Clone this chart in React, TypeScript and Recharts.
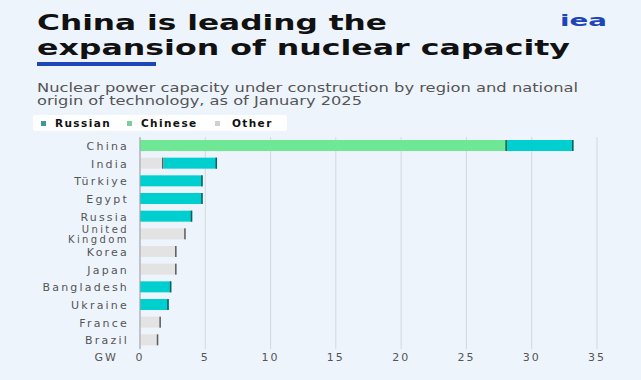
import React from 'react';
import { BarChart, Bar, XAxis, YAxis, CartesianGrid } from 'recharts';

const countries = [
  'China',
  'India',
  'Türkiye',
  'Egypt',
  'Russia',
  'United Kingdom',
  'Korea',
  'Japan',
  'Bangladesh',
  'Ukraine',
  'France',
  'Brazil',
];
const other = [0, 1.8, 0, 0, 0, 3.5, 2.8, 2.8, 0, 0, 1.6, 1.4];
const chinese = [28.1, 0, 0, 0, 0, 0, 0, 0, 0, 0, 0, 0];
const russian = [5.1, 4.1, 4.8, 4.8, 4.0, 0, 0, 0, 2.4, 2.2, 0, 0];
const xTicks = [0, 5, 10, 15, 20, 25, 30, 35];

const series = [
  { key: 'other', name: 'Other', fill: '#e3e3e3', edge: '#5c5c5c', dot: '#d0d0d0' },
  { key: 'chinese', name: 'Chinese', fill: '#6fe896', edge: '#2b4f42', dot: '#7ccf98' },
  { key: 'russian', name: 'Russian', fill: '#00cfcf', edge: '#1c5c5c', dot: '#3a9a9a' },
];
const legendOrder = ['russian', 'chinese', 'other'];

const data = countries.map((name, i) => ({
  name,
  other: other[i],
  chinese: chinese[i],
  russian: russian[i],
}));

const FONT = '"DejaVu Sans", sans-serif';
const BG = '#eef4fc';

// bar with a thin darker right edge, like the source
const EdgeBar = (edge: string) => (props: any) => {
  const { x, y, width, height, fill } = props;
  if (!width || width <= 0) return null;
  return (
    <g>
      <rect x={x} y={y} width={width} height={height} fill={fill} />
      <rect x={x + width - 1.5} y={y} width={1.5} height={height} fill={edge} />
    </g>
  );
};

const YTick = (props: any) => {
  const { x, y, payload } = props;
  const label = String(payload.value);
  const lines = label.length > 12 ? label.split(' ') : [label];
  const two = lines.length > 1;
  return (
    <text
      x={x}
      y={y}
      textAnchor="end"
      fontSize={two ? 10 : 11}
      fill="#555"
      letterSpacing={two ? 2.4 : 2.2}
      fontFamily={FONT}
    >
      {lines.map((l, i) => (
        <tspan key={l} x={x} dy={i === 0 ? (two ? -1 : 4) : 9.5}>
          {l}
        </tspan>
      ))}
    </text>
  );
};

export default function App() {
  return (
    <div
      style={{
        position: 'absolute',
        left: 0,
        top: 0,
        width: 641,
        height: 380,
        background: BG,
        fontFamily: FONT,
        overflow: 'hidden',
      }}
    >
      {/* HEADER */}
      <svg width={641} height={112} style={{ position: 'absolute', left: 0, top: 0 }}>
        <text
          x={37}
          y={30}
          fontSize={21.5}
          fontWeight="bold"
          fill="#111"
          textLength={350}
          lengthAdjust="spacingAndGlyphs"
          fontFamily={FONT}
        >
          China is leading the
        </text>
        <text
          x={37}
          y={55}
          fontSize={21.5}
          fontWeight="bold"
          fill="#111"
          textLength={533}
          lengthAdjust="spacingAndGlyphs"
          fontFamily={FONT}
        >
          expansion of nuclear capacity
        </text>
        <text
          x={560}
          y={26}
          fontSize={15}
          fontWeight="bold"
          fill="#1e45b5"
          textLength={47}
          lengthAdjust="spacingAndGlyphs"
          fontFamily={FONT}
        >
          iea
        </text>
        <rect x={37} y={62} width={119} height={4} fill="#1d47b8" />
        <text
          x={37}
          y={92}
          fontSize={12}
          fill="#555"
          textLength={541}
          lengthAdjust="spacingAndGlyphs"
          fontFamily={FONT}
        >
          Nuclear power capacity under construction by region and national
        </text>
        <text
          x={37}
          y={105}
          fontSize={12}
          fill="#555"
          textLength={325}
          lengthAdjust="spacingAndGlyphs"
          fontFamily={FONT}
        >
          origin of technology, as of January 2025
        </text>
      </svg>

      {/* LEGEND */}
      <div
        style={{
          position: 'absolute',
          left: 33,
          top: 115,
          width: 254,
          height: 16,
          background: '#fff',
          borderRadius: 2,
        }}
      >
        {legendOrder.map((k, i) => {
          const s = series.find((d) => d.key === k)!;
          const left = [8, 94, 182][i];
          return (
            <div
              key={k}
              style={{
                position: 'absolute',
                left,
                top: 0,
                height: 16,
                display: 'flex',
                alignItems: 'center',
                fontSize: 10.5,
                fontWeight: 'bold',
                letterSpacing: 1.4,
                color: '#111',
              }}
            >
              <span
                style={{
                  width: 5,
                  height: 5,
                  background: s.dot,
                  marginRight: k === 'other' ? 12 : 9,
                  display: 'inline-block',
                }}
              />
              {s.name}
            </div>
          );
        })}
      </div>

      {/* CHART */}
      <div style={{ position: 'absolute', left: 0, top: 130 }}>
        <BarChart
          width={641}
          height={250}
          data={data}
          layout="vertical"
          margin={{ top: 7, right: 44, bottom: 6, left: 0 }}
          barSize={11}
        >
          <CartesianGrid horizontal={false} stroke="#d3d8df" />
          <XAxis
            type="number"
            domain={[0, 35]}
            ticks={xTicks}
            axisLine={false}
            tickLine={false}
            tickSize={0}
            tickMargin={4}
            height={25}
            tick={{ fontSize: 11, fill: '#555', letterSpacing: 2, fontFamily: FONT }}
            label={({ viewBox }: any) => (
              <text
                x={viewBox.x - 22}
                y={viewBox.y + 12}
                textAnchor="end"
                fontSize={11}
                fill="#555"
                letterSpacing={2}
                fontFamily={FONT}
              >
                GW
              </text>
            )}
          />
          <YAxis
            type="category"
            dataKey="name"
            width={140}
            axisLine={{ stroke: '#9ea3a9' }}
            tickLine={false}
            tickSize={0}
            tickMargin={11}
            interval={0}
            tick={<YTick />}
          />
          {series.map((s) => (
            <Bar
              key={s.key}
              dataKey={s.key}
              name={s.name}
              stackId="a"
              fill={s.fill}
              shape={EdgeBar(s.edge)}
              isAnimationActive={false}
            />
          ))}
        </BarChart>
      </div>
    </div>
  );
}
